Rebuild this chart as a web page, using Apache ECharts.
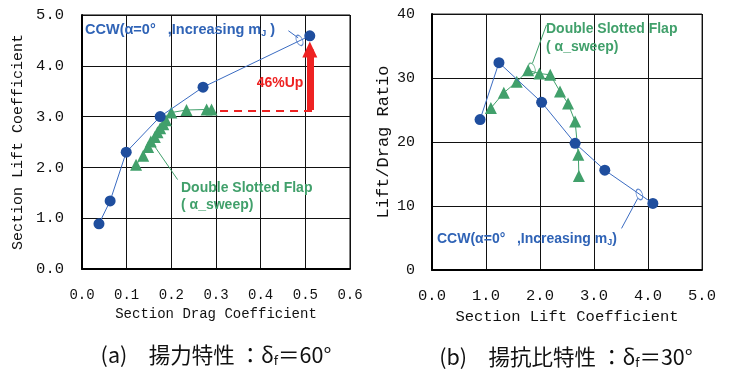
<!DOCTYPE html>
<html>
<head>
<meta charset="utf-8">
<script src="https://cdn.jsdelivr.net/npm/echarts@6/dist/echarts.min.js"></script>
<style>
  html, body { margin: 0; padding: 0; background: #fff; }
  #chart { width: 730px; height: 371px; }
</style>
</head>
<body>
<div id="chart"></div>
<script>
// (a) Lift: [Section Drag Coefficient, Section Lift Coefficient], delta_f = 60 deg
const liftCCW = [
  [0.038, 0.89], [0.063, 1.34], [0.099, 2.30], [0.175, 3.00], [0.271, 3.58], [0.510, 4.59]
];
const liftFlap = [
  [0.121, 2.05], [0.137, 2.23], [0.148, 2.40], [0.154, 2.51], [0.163, 2.60], [0.169, 2.69],
  [0.175, 2.77], [0.182, 2.85], [0.188, 2.93], [0.200, 3.08], [0.234, 3.13], [0.279, 3.14],
  [0.290, 3.14]
];
// (b) Lift/Drag: [Section Lift Coefficient, Lift/Drag Ratio], delta_f = 30 deg
const ldCCW = [
  [0.89, 23.5], [1.24, 32.4], [2.03, 26.2], [2.65, 19.8], [3.20, 15.6], [4.09, 10.4]
];
const ldFlap = [
  [1.09, 25.3], [1.33, 27.7], [1.57, 29.4], [1.78, 31.2], [1.99, 30.7], [2.19, 30.5],
  [2.37, 27.9], [2.52, 26.0], [2.65, 23.2], [2.71, 18.0], [2.72, 14.7]
];

// Axis ranges / tick steps
const dragTicks = { min: 0, max: 0.6, interval: 0.1 };
const liftTicksA = { min: 0, max: 5, interval: 1 };
const liftTicksB = { min: 0, max: 5, interval: 1 };
const ratioTicks = { min: 0, max: 40, interval: 10 };

// Annotation anchors (data coordinates)
const flapMaxCl = 3.12;            // Double slotted flap maximum lift level
const ccwMaxCl = 4.59;             // CCW maximum lift
const arrowX = 0.51;

const BLUE_PT = '#1f4e9e', BLUE_LN = '#3b6cc2', BLUE_TX = '#2f63b6';
const GREEN = '#41a06b', RED = '#ee2222';
const MONO = '"Liberation Mono", "DejaVu Sans Mono", monospace';
const SANS = '"Liberation Sans", Arial, sans-serif';
const CJK = '"Noto Sans CJK JP", "Noto Sans", sans-serif';

function axisCommon(t, fontSize, fmt, margin) {
  return {
    min: t.min, max: t.max, interval: t.interval,
    axisLine: { show: true, onZero: false, lineStyle: { color: '#000', width: 2 } },
    axisTick: { show: false },
    splitLine: { show: true, lineStyle: { color: '#111', width: 1 } },
    axisLabel: { color: '#111', fontFamily: MONO, fontSize: fontSize, margin: margin, formatter: fmt },
    nameTextStyle: { color: '#111', fontFamily: MONO }
  };
}
const f1 = v => v.toFixed(1);
const f0 = v => String(Math.round(v));

const chart = echarts.init(document.getElementById('chart'));

const option = {
  animation: false,
  backgroundColor: '#fff',
  grid: [
    { left: 82, top: 15, width: 268, height: 254, show: true, borderColor: '#000', borderWidth: 1 },
    { left: 432, top: 14, width: 270, height: 256, show: true, borderColor: '#333', borderWidth: 1 }
  ],
  xAxis: [
    Object.assign(axisCommon(dragTicks, 14, f1, 19), {
      type: 'value', gridIndex: 0, name: 'Section Drag Coefficient', nameLocation: 'middle', nameGap: 37,
      nameTextStyle: { color: '#111', fontFamily: MONO, fontSize: 14 }
    }),
    Object.assign(axisCommon(liftTicksB, 15.5, f1, 18), {
      type: 'value', gridIndex: 1, name: 'Section Lift Coefficient', nameLocation: 'middle', nameGap: 38,
      nameTextStyle: { color: '#111', fontFamily: MONO, fontSize: 15.5 }
    })
  ],
  yAxis: [
    Object.assign(axisCommon(liftTicksA, 15.5, f1, 18), {
      type: 'value', gridIndex: 0, name: 'Section Lift Coefficient', nameLocation: 'middle', nameGap: 56,
      nameTextStyle: { color: '#111', fontFamily: MONO, fontSize: 15 }
    }),
    Object.assign(axisCommon(ratioTicks, 15, f0, 17), {
      type: 'value', gridIndex: 1, name: 'Lift/Drag Ratio', nameLocation: 'middle', nameGap: 40,
      nameTextStyle: { color: '#111', fontFamily: MONO, fontSize: 17 }
    })
  ],
  series: [
    // ---- (a) lift ----
    {
      name: 'CCW lift', type: 'line', xAxisIndex: 0, yAxisIndex: 0, data: liftCCW,
      symbol: 'circle', symbolSize: 11, z: 5,
      lineStyle: { color: BLUE_LN, width: 1 }, itemStyle: { color: BLUE_PT }
    },
    {
      name: 'Flap lift', type: 'line', xAxisIndex: 0, yAxisIndex: 0, data: liftFlap,
      symbol: 'triangle', symbolSize: 12, z: 4,
      lineStyle: { color: GREEN, width: 1 }, itemStyle: { color: GREEN }
    },
    {
      name: 'lift notes', type: 'line', xAxisIndex: 0, yAxisIndex: 0, data: [], z: 6,
      markLine: {
        silent: true, animation: false, label: { show: false },
        data: [
          // level of the flap maximum lift
          [{ coord: [0.309, flapMaxCl], symbol: 'none', lineStyle: { color: RED, width: 2, type: [8, 6] } },
           { coord: [0.517, flapMaxCl], symbol: 'none' }],
          // gain arrow
          [{ coord: [arrowX, flapMaxCl + 0.01], symbol: 'none', lineStyle: { color: RED, width: 7, type: 'solid' } },
           { coord: [arrowX, 4.32], symbol: 'triangle', symbolSize: [15, 16] }],
          // leader lines
          [{ coord: [0.462, 4.69], symbol: 'none', lineStyle: { color: BLUE_LN, width: 1, type: 'solid' } },
           { coord: [0.484, 4.55], symbol: 'none' }],
          [{ coord: [0.214, 1.76], symbol: 'none', lineStyle: { color: GREEN, width: 1, type: 'solid' } },
           { coord: [0.152, 2.55], symbol: 'none' }]
        ]
      }
    },
    {
      name: 'lift loop', type: 'scatter', xAxisIndex: 0, yAxisIndex: 0, data: [[0.487, 4.50]], z: 6,
      symbol: 'circle', symbolSize: [6, 11], symbolRotate: 25, silent: true,
      itemStyle: { color: 'rgba(0,0,0,0)', borderColor: BLUE_LN, borderWidth: 1 }
    },
    // ---- (b) lift/drag ----
    {
      name: 'CCW L/D', type: 'line', xAxisIndex: 1, yAxisIndex: 1, data: ldCCW,
      symbol: 'circle', symbolSize: 11, z: 5,
      lineStyle: { color: BLUE_LN, width: 1 }, itemStyle: { color: BLUE_PT }
    },
    {
      name: 'Flap L/D', type: 'line', xAxisIndex: 1, yAxisIndex: 1, data: ldFlap,
      symbol: 'triangle', symbolSize: 12, z: 4,
      lineStyle: { color: GREEN, width: 1 }, itemStyle: { color: GREEN }
    },
    {
      name: 'ld notes', type: 'line', xAxisIndex: 1, yAxisIndex: 1, data: [], z: 6,
      markLine: {
        silent: true, animation: false, label: { show: false }, symbol: 'none',
        data: [
          [{ coord: [3.51, 6.5], lineStyle: { color: BLUE_LN, width: 1, type: 'solid' } },
           { coord: [3.81, 11.2] }],
          [{ coord: [2.12, 38.3], lineStyle: { color: GREEN, width: 1, type: 'solid' } },
           { coord: [1.86, 32.3] }]
        ]
      }
    },
    {
      name: 'ld loops', type: 'scatter', xAxisIndex: 1, yAxisIndex: 1, z: 6, silent: true,
      data: [
        { value: [3.84, 11.8], itemStyle: { borderColor: BLUE_LN } },
        { value: [1.85, 31.5], itemStyle: { borderColor: GREEN } }
      ],
      symbol: 'circle', symbolSize: [6, 11], symbolRotate: 20,
      itemStyle: { color: 'rgba(0,0,0,0)', borderWidth: 1 }
    }
  ],
  graphic: [
    // (a) annotations
    {
      type: 'text', x: 85, y: 30, z: 20,
      style: {
        text: 'CCW(α=0°   ,Increasing m{s|J} )', fill: BLUE_TX, font: 'bold 14.5px ' + SANS,
        verticalAlign: 'middle',
        rich: { s: { fontSize: 9, fontWeight: 'bold', fontFamily: SANS, fill: BLUE_TX, padding: [7, 0, 0, 0] } }
      }
    },
    {
      type: 'text', x: 181, y: 188, z: 20,
      style: { text: 'Double Slotted Flap', fill: GREEN, font: 'bold 14px ' + SANS, verticalAlign: 'middle' }
    },
    {
      type: 'text', x: 181, y: 205, z: 20,
      style: { text: '( α_sweep)', fill: GREEN, font: 'bold 14px ' + SANS, verticalAlign: 'middle' }
    },
    {
      type: 'text', x: 280, y: 83, z: 20,
      style: { text: '46%Up', fill: RED, font: 'bold 14px ' + SANS, align: 'center', verticalAlign: 'middle' }
    },
    // (b) annotations
    {
      type: 'text', x: 546, y: 29, z: 20,
      style: { text: 'Double Slotted Flap', fill: GREEN, font: 'bold 14px ' + SANS, verticalAlign: 'middle' }
    },
    {
      type: 'text', x: 546, y: 47, z: 20,
      style: { text: '( α_sweep)', fill: GREEN, font: 'bold 14px ' + SANS, verticalAlign: 'middle' }
    },
    {
      type: 'text', x: 437, y: 239, z: 20,
      style: {
        text: 'CCW(α=0°   ,Increasing m{s|J})', fill: BLUE_TX, font: 'bold 14px ' + SANS,
        verticalAlign: 'middle',
        rich: { s: { fontSize: 9, fontWeight: 'bold', fontFamily: SANS, fill: BLUE_TX, padding: [7, 0, 0, 0] } }
      }
    },
    // captions
    {
      type: 'text', x: 216, y: 355, z: 20,
      style: {
        text: '(a)　揚力特性 ：δ{s|f}＝60°', fill: '#111', font: '21.5px ' + CJK,
        align: 'center', verticalAlign: 'middle',
        rich: { s: { fontSize: 13, fontFamily: CJK, fill: '#111', padding: [10, 0, 0, 0] } }
      }
    },
    {
      type: 'text', x: 566, y: 357, z: 20,
      style: {
        text: '(b)　揚抗比特性 ：δ{s|f}＝30°', fill: '#111', font: '21.5px ' + CJK,
        align: 'center', verticalAlign: 'middle',
        rich: { s: { fontSize: 13, fontFamily: CJK, fill: '#111', padding: [10, 0, 0, 0] } }
      }
    }
  ]
};

chart.setOption(option);
</script>
</body>
</html>
